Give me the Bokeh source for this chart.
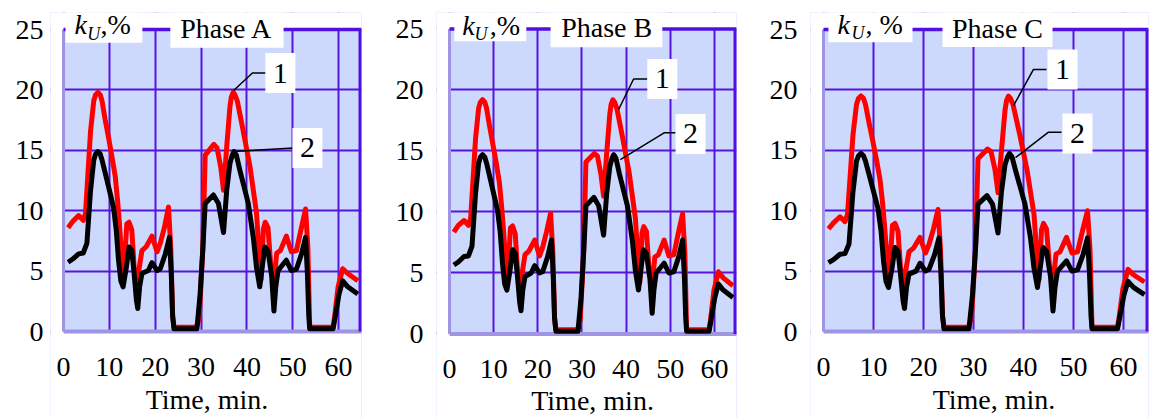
from bokeh.plotting import figure
from bokeh.layouts import row
from bokeh.models import BoxAnnotation, Label, FixedTicker, Range1d
from bokeh.core.properties import value
from bokeh.embed import file_html
from bokeh.resources import INLINE

# ---------------- data ----------------
x_ticks = [0, 10, 20, 30, 40, 50, 60]
y_ticks = [0, 5, 10, 15, 20, 25]
phase_names = ["Phase A", "Phase B", "Phase C"]
x_title = "Time, min."

# time (min) for curve 2 (black)
t_black = [1, 2, 3.3, 4.3, 5.1, 5.9, 6.6, 7.0, 7.5, 8.0, 8.4, 9.5,
           10.2, 10.9, 11.5, 12.0, 12.5, 13.0, 13.7, 14.3, 14.9, 15.4,
           15.9, 16.2, 16.6, 17.1, 18.5, 19.3, 20.4, 21.1, 22.2, 23.1,
           23.5, 23.8, 24.1, 29.1, 29.8, 30.4, 30.9, 32.7, 33.8, 34.9,
           35.6, 36.3, 36.8, 37.2, 37.7, 38.5, 40.3, 41.4, 42.1, 42.8, 43.4, 43.9,
           44.6, 45.4, 45.9, 46.3, 46.8, 48.6, 49.7, 50.8, 51.9, 52.8,
           53.2, 53.5, 53.7, 58.8, 59.3, 60.1, 60.9, 62.0, 64.2]

# time (min) for curve 1 (red)
t_red = [1, 2, 3.3, 4.3, 4.8, 5.9, 6.6, 7.0, 7.5, 8.0, 8.4, 9.1,
         9.8, 10.6, 11.3, 11.8, 12.2, 12.75, 13.1, 13.8, 14.3, 14.9,
         15.4, 16.0, 17.1, 18.0, 19.3, 20.4, 21.1, 22.0, 22.9, 23.4,
         23.8, 24.1, 29.0, 29.6, 30.4, 30.9, 32.8, 33.5, 34.3, 34.9,
         35.6, 36.3, 36.6, 37.0, 37.4, 37.9, 39.2, 40.7, 42.1, 42.75, 43.1, 43.6,
         44.0, 44.6, 45.2, 45.9, 46.5, 47.3, 48.6, 49.7, 50.8, 51.9,
         52.8, 53.3, 53.7, 58.8, 59.1, 59.9, 60.9, 62.0, 64.2]

kU_A_1 = [8.6, 9.1, 9.6, 9.2, 9.8, 16.6, 19.1, 19.6, 19.8, 19.6, 19.1, 17.5,
          16.1, 14.4, 12.8, 10.8, 8.9, 5.9, 4.2, 8.9, 9.05, 8.4,
          5.3, 4.0, 6.7, 7.0, 7.9, 6.6, 7.3, 8.6, 10.3, 6.9,
          1.3, 0.35, 0.35, 1.1, 7.0, 14.6, 15.5, 15.2, 13.6, 11.7,
          15.3, 18.6, 19.4, 19.8, 19.6, 19.1, 16.6, 13.6, 9.8, 6.0, 4.3, 8.5,
          9.05, 8.6, 5.5, 4.0, 6.5, 6.7, 7.9, 6.6, 6.7, 8.6,
          10.15, 6.9, 0.35, 0.35, 1.1, 3.7, 5.2, 4.8, 4.2]
kU_A_2 = [5.74, 6.0, 6.43, 6.5, 7.3, 11.7, 14.2, 14.7, 14.9, 14.7, 14.2, 12.5,
          11.4, 10.3, 8.4, 5.9, 4.2, 3.7, 5.3, 7.0, 6.7, 4.8,
          2.6, 1.9, 3.7, 4.8, 5.05, 5.7, 5.05, 5.2, 6.4, 7.8,
          4.8, 1.3, 0.22, 0.22, 3.1, 6.9, 10.6, 11.3, 10.6, 8.2,
          11.7, 13.9, 14.6, 14.9, 14.6, 13.3, 10.6, 7.8, 5.3, 3.7, 5.5, 7.0,
          6.7, 4.6, 1.7, 3.7, 5.05, 5.9, 5.05, 5.15, 6.4, 7.8,
          4.8, 1.3, 0.22, 0.22, 1.3, 3.1, 4.2, 3.7, 3.1]

kU_B_1 = [8.35, 8.9, 9.3, 8.9, 9.5, 16.0, 18.5, 19.0, 19.2, 19.0, 18.5, 17.0,
          15.6, 14.0, 12.4, 10.5, 8.7, 5.8, 4.1, 8.7, 8.85, 8.2,
          5.2, 3.9, 6.5, 6.8, 7.7, 6.4, 7.1, 8.4, 9.9, 6.7,
          1.3, 0.35, 0.35, 1.1, 6.8, 14.1, 14.8, 14.6, 13.1, 11.3,
          14.8, 18.0, 18.8, 19.2, 19.0, 18.5, 16.1, 13.2, 9.5, 5.8, 4.2, 8.3,
          8.8, 8.4, 5.3, 3.9, 6.3, 6.5, 7.7, 6.4, 6.5, 8.4,
          9.85, 6.7, 0.35, 0.35, 1.1, 3.6, 5.1, 4.6, 3.95]
kU_B_2 = [5.65, 5.9, 6.35, 6.4, 7.2, 11.5, 14.0, 14.5, 14.7, 14.5, 14.0, 12.3,
          11.2, 10.1, 8.3, 5.8, 4.1, 3.6, 5.2, 6.9, 6.6, 4.7,
          2.6, 1.9, 3.6, 4.7, 5.0, 5.6, 5.0, 5.1, 6.3, 7.7,
          4.7, 1.3, 0.22, 0.22, 3.0, 6.8, 10.5, 11.2, 10.5, 8.1,
          11.5, 13.7, 14.4, 14.7, 14.4, 13.1, 10.5, 7.7, 5.2, 3.6, 5.4, 6.9,
          6.6, 4.5, 1.7, 3.6, 5.0, 5.8, 5.0, 5.1, 6.3, 7.7,
          4.7, 1.3, 0.22, 0.22, 1.3, 3.0, 4.1, 3.6, 3.0]

kU_C_1 = [8.5, 9.0, 9.5, 9.1, 9.7, 16.3, 18.8, 19.3, 19.5, 19.3, 18.8, 17.3,
          15.9, 14.2, 12.6, 10.7, 8.8, 5.9, 4.2, 8.8, 8.95, 8.3,
          5.3, 4.0, 6.6, 6.9, 7.8, 6.5, 7.2, 8.5, 10.1, 6.8,
          1.3, 0.35, 0.35, 1.1, 6.9, 14.3, 15.1, 14.9, 13.4, 11.5,
          15.0, 18.3, 19.1, 19.5, 19.3, 18.8, 16.4, 13.4, 9.7, 5.9, 4.3, 8.4,
          8.95, 8.5, 5.4, 4.0, 6.4, 6.6, 7.8, 6.5, 6.6, 8.5,
          10.0, 6.8, 0.35, 0.35, 1.1, 3.6, 5.15, 4.7, 4.1]
kU_C_2 = [5.7, 5.95, 6.4, 6.45, 7.25, 11.6, 14.1, 14.55, 14.75, 14.55, 14.1, 12.4,
          11.3, 10.2, 8.35, 5.85, 4.15, 3.65, 5.25, 6.95, 6.65, 4.75,
          2.6, 1.9, 3.65, 4.75, 5.0, 5.65, 5.0, 5.15, 6.35, 7.75,
          4.75, 1.3, 0.22, 0.22, 3.05, 6.85, 10.55, 11.25, 10.55, 8.15,
          11.6, 13.8, 14.45, 14.75, 14.45, 13.2, 10.55, 7.75, 5.25, 3.65, 5.45, 6.95,
          6.65, 4.55, 1.7, 3.65, 5.0, 5.85, 5.0, 5.1, 6.35, 7.75,
          4.75, 1.3, 0.22, 0.22, 1.3, 3.05, 4.15, 3.65, 3.05]

# ---------------- styles / layout ----------------
FONT = "Liberation Serif"
BG = "#cdd8fd"
GRID = "#5614dc"
DARK = "#5010e0"
LIGHT = "#a094e4"
RED = "#ff0000"
BLACK = "#000000"
FIG_H = 418

layout_cfg = [
    dict(ml=50, fw=311, mr=20, mt=12, xr=(-2.84, 65), yr=(-7.2, 26.41), so=7,
         ku_sep=",%", ku_box=(0.44, 17.2, 23.9), ku_x=(2.4, 5.2, 8.07), ku_y=(25.41, 24.67),
         ph_box=(23.3, 48.0, 23.5), ph_text=(35.55, 25.12),
         n1=(47.3, 21.4), n2=(53.2, 15.2),
         lead1=([37.1, 41.2, 44.1], [19.95, 21.4, 21.4]),
         lead2=([37.1, 50.2], [14.9, 15.2]),
         tick_y=-2.94, xlab=(31.3, -5.59)),
    dict(ml=55, fw=300, mr=20, mt=10, xr=(-2.94, 65), yr=(-7.09, 26.35), so=13,
         ku_sep=",%", ku_box=(1.1, 17.4, 24.0), ku_x=(2.9, 5.66, 9.1), ku_y=(25.29, 24.55),
         ph_box=(22.9, 48.2, 23.5), ph_text=(35.6, 25.12),
         n1=(48.2, 20.9), n2=(54.6, 16.4),
         lead1=([38.3, 41.7, 44.8], [18.4, 20.9, 20.9]),
         lead2=([38.7, 48.7, 51.2], [14.3, 16.5, 16.5]),
         tick_y=-2.87, xlab=(32.4, -5.49)),
    dict(ml=54, fw=338, mr=8, mt=12, xr=(-2.6, 65), yr=(-7.2, 26.41), so=13,
         ku_sep=", %", ku_box=(1.0, 17.8, 23.95), ku_x=(2.8, 5.6, 8.4), ku_y=(25.44, 24.71),
         ph_box=(23.8, 45.8, 23.55), ph_text=(34.8, 25.12),
         n1=(47.8, 21.7), n2=(50.8, 16.4),
         lead1=([38.0, 42.0, 44.6], [18.7, 21.7, 21.7]),
         lead2=([38.4, 45.0, 47.6], [14.4, 16.5, 16.5]),
         tick_y=-2.94, xlab=(34.1, -5.59)),
]

series = [(kU_A_1, kU_A_2), (kU_B_1, kU_B_2), (kU_C_1, kU_C_2)]


def txt(p, x, y, s, size="28px", style="normal", align="left"):
    p.add_layout(Label(x=x, y=y, text=s, text_font=FONT, text_font_size=size,
                       text_font_style=style, text_color="black",
                       text_align=align, text_baseline="middle"))


def wbox(p, l, r, b, t, level="annotation"):
    p.add_layout(BoxAnnotation(left=l, right=r, bottom=b, top=t, fill_color="white",
                               fill_alpha=1.0, line_alpha=0, level=level))


figs = []
for name, (red, black), cfg in zip(phase_names, series, layout_cfg):
    fh = FIG_H - cfg["mt"]
    p = figure(frame_width=cfg["fw"], frame_height=fh,
               x_range=Range1d(*cfg["xr"]), y_range=Range1d(*cfg["yr"]),
               output_backend="svg", toolbar_location=None,
               min_border_left=cfg["ml"], min_border_right=cfg["mr"],
               min_border_top=cfg["mt"], min_border_bottom=0)
    p.background_fill_color = BG
    p.border_fill_color = "white"
    p.outline_line_color = None

    p.xaxis.visible = False
    p.xgrid.ticker = FixedTicker(ticks=x_ticks)
    p.yaxis.ticker = FixedTicker(ticks=y_ticks)
    p.yaxis.axis_line_color = None
    p.yaxis.major_tick_line_color = None
    p.yaxis.minor_tick_line_color = None
    p.yaxis.major_tick_out = 0
    p.yaxis.major_tick_in = 0
    p.yaxis.minor_tick_out = 0
    p.yaxis.major_label_text_font = FONT
    p.yaxis.major_label_text_font_size = "28px"
    p.yaxis.major_label_text_color = "black"
    p.yaxis.major_label_standoff = cfg["so"]
    for g in (p.xgrid, p.ygrid):
        g.grid_line_color = GRID
        g.grid_line_width = 2

    # white areas outside the 0..65 x 0..25 plotting box (over the grid)
    wbox(p, None, None, None, 0, level="underlay")
    wbox(p, None, None, 25, None, level="underlay")
    wbox(p, None, 0, None, None, level="underlay")

    # plotting box borders
    p.segment(x0=[0], y0=[0], x1=[65], y1=[0], line_color=LIGHT, line_width=4)
    p.segment(x0=[0], y0=[0], x1=[0], y1=[25], line_color=LIGHT, line_width=3)
    p.segment(x0=[65], y0=[0], x1=[65], y1=[25], line_color=DARK, line_width=6)
    p.segment(x0=[0], y0=[25], x1=[65], y1=[25], line_color=DARK, line_width=3.5)

    p.line(t_red, red, line_color=RED, line_width=5, line_join="round")
    p.line(t_black, black, line_color=BLACK, line_width=5, line_join="round")
    p.line(cfg["lead1"][0], cfg["lead1"][1], line_color="black", line_width=1.5)
    p.line(cfg["lead2"][0], cfg["lead2"][1], line_color="black", line_width=1.5)

    # x tick labels and axis title
    p.text(x=x_ticks, y=[cfg["tick_y"]] * len(x_ticks), text=[str(t) for t in x_ticks],
           text_font=value(FONT), text_font_size=value("28px"), text_color="black",
           text_align="center", text_baseline="middle")
    txt(p, cfg["xlab"][0], cfg["xlab"][1], x_title, align="center")

    # k_U box
    l, r, b = cfg["ku_box"]
    wbox(p, l, r, b, 26.6)
    kx, ux, sx_ = cfg["ku_x"]
    ky, uy = cfg["ku_y"]
    txt(p, kx, ky, "k", style="italic")
    txt(p, ux, uy, "U", size="18px", style="italic")
    txt(p, sx_, ky, cfg["ku_sep"])

    # phase box
    l, r, b = cfg["ph_box"]
    wbox(p, l, r, b, 26.6)
    txt(p, cfg["ph_text"][0], cfg["ph_text"][1], name, align="center")

    # numbered boxes
    sxu = cfg["fw"] / (cfg["xr"][1] - cfg["xr"][0])
    syu = fh / (cfg["yr"][1] - cfg["yr"][0])
    for (cx, cy), s in ((cfg["n1"], "1"), (cfg["n2"], "2")):
        hw = 15 / sxu
        hh = 20 / syu
        wbox(p, cx - hw, cx + hw, cy - hh, cy + hh)
        txt(p, cx, cy, s, size="30px", align="center")

    figs.append(p)

layout = row(*figs)
open("out.html", "w").write(file_html(layout, INLINE))
